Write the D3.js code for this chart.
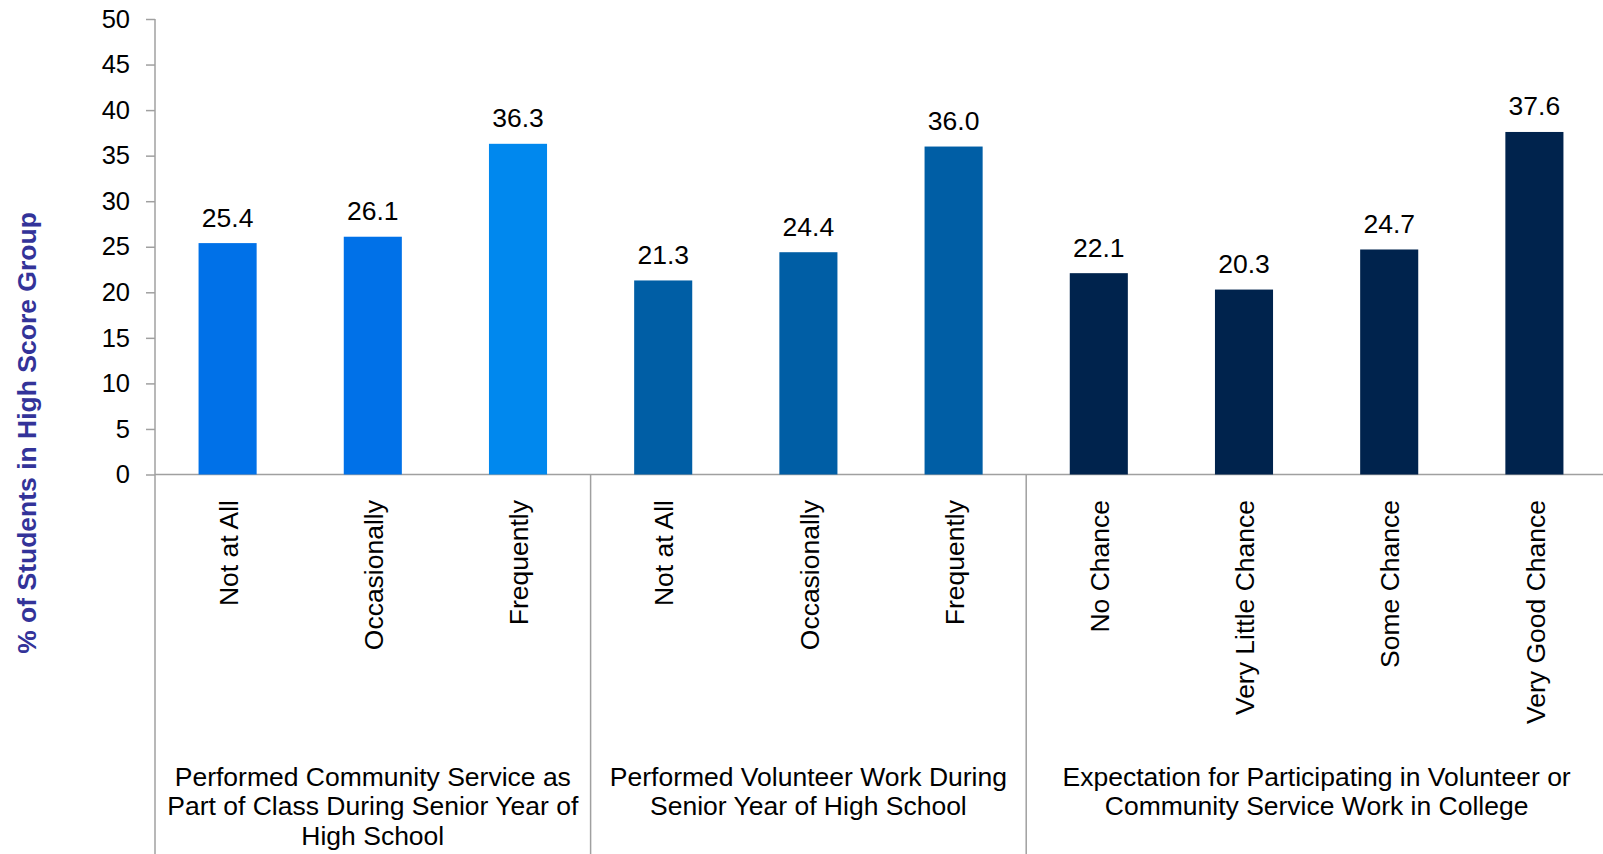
<!DOCTYPE html>
<html>
<head>
<meta charset="utf-8">
<script src="https://cdn.jsdelivr.net/npm/d3@7"></script>
<style>
  body { margin: 0; background: #fff; }
  svg { display: block; font-family: "Liberation Sans", Arial, sans-serif; }
</style>
</head>
<body>
<svg></svg>
<script>
const width = 1603;
const height = 854;

// data
const categories = ['Not at All', 'Occasionally', 'Frequently',
  'Not at All', 'Occasionally', 'Frequently',
  'No Chance', 'Very Little Chance', 'Some Chance', 'Very Good Chance'];
const values = [25.4, 26.1, 36.3, 21.3, 24.4, 36.0, 22.1, 20.3, 24.7, 37.6];
const groupOf = [0, 0, 0, 1, 1, 1, 2, 2, 2, 2];
const groupLabels = [
  ['Performed Community Service as', 'Part of Class During Senior Year of', 'High School'],
  ['Performed Volunteer Work During', 'Senior Year of High School'],
  ['Expectation for Participating in Volunteer or', 'Community Service Work in College']
];
const barColors = ['#0071E8', '#0071E8', '#0088EE',
  '#005EA5', '#005EA5', '#005EA5',
  '#00234D', '#00234D', '#00234D', '#00234D'];
const yTicks = [0, 5, 10, 15, 20, 25, 30, 35, 40, 45, 50];
const yTitle = '% of Students in High Score Group';

const left = 155;
const step = 145.2;
const y0 = 474.5;
const yTop = 19;
const fontSize = 26.5;

const svg = d3.select('svg')
  .attr('width', width)
  .attr('height', height);

const xScale = d3.scaleBand()
  .domain(d3.range(categories.length))
  .range([left, left + step * categories.length])
  .paddingInner(0.6)
  .paddingOuter(0.3);

const yScale = d3.scaleLinear()
  .domain([0, 50])
  .range([y0, yTop]);

// ====================================
// Y Axis
// ====================================
const yAxis = d3.axisLeft(yScale)
  .tickValues(yTicks)
  .tickSize(9)
  .tickPadding(16);

const yg = svg.append('g')
  .attr('transform', `translate(${left}, 0)`)
  .call(yAxis);
yg.select('.domain').remove();
yg.selectAll('line').attr('stroke', '#A0A0A0').attr('stroke-width', 1.5);
yg.selectAll('text')
  .attr('font-size', 25.5)
  .attr('fill', '#000')
  .attr('font-family', '"Liberation Sans", Arial, sans-serif');

// axis lines
svg.append('line')
  .attr('x1', left).attr('x2', left)
  .attr('y1', yTop).attr('y2', height)
  .attr('stroke', '#A0A0A0').attr('stroke-width', 1.5);

svg.append('line')
  .attr('x1', left).attr('x2', width)
  .attr('y1', y0).attr('y2', y0)
  .attr('stroke', '#A0A0A0').attr('stroke-width', 1.5);

// group separators
const groupStarts = groupLabels.map((g, i) => groupOf.indexOf(i));
const groupEnds = groupLabels.map((g, i) => groupOf.lastIndexOf(i) + 1);

svg.selectAll('.sep')
  .data(groupStarts.slice(1))
  .enter()
  .append('line')
  .attr('x1', d => left + step * d)
  .attr('x2', d => left + step * d)
  .attr('y1', y0)
  .attr('y2', height)
  .attr('stroke', '#A0A0A0').attr('stroke-width', 1.5);

// ====================================
// Bars
// ====================================
svg.selectAll('rect.bar')
  .data(values)
  .enter()
  .append('rect')
  .attr('class', 'bar')
  .attr('x', (d, i) => xScale(i))
  .attr('y', d => yScale(d))
  .attr('width', xScale.bandwidth())
  .attr('height', d => y0 - yScale(d))
  .attr('fill', (d, i) => barColors[i]);

svg.selectAll('text.val')
  .data(values)
  .enter()
  .append('text')
  .attr('class', 'val')
  .attr('x', (d, i) => xScale(i) + xScale.bandwidth() / 2)
  .attr('y', d => yScale(d) - 16.5)
  .attr('text-anchor', 'middle')
  .attr('font-size', fontSize)
  .text(d => d3.format('.1f')(d));

// category labels
svg.selectAll('text.cat')
  .data(categories)
  .enter()
  .append('text')
  .attr('class', 'cat')
  .attr('transform', (d, i) => `translate(${xScale(i) + xScale.bandwidth() / 2 + 1}, 500) rotate(-90)`)
  .attr('text-anchor', 'end')
  .attr('dy', '0.35em')
  .attr('font-size', fontSize)
  .text(d => d);

// group labels
groupLabels.forEach((lines, g) => {
  const x0 = left + step * groupStarts[g];
  const x1 = left + step * groupEnds[g];
  const t = svg.append('text')
    .attr('text-anchor', 'middle')
    .attr('font-size', fontSize);
  lines.forEach((line, k) => {
    t.append('tspan')
      .attr('x', (x0 + x1) / 2)
      .attr('y', 786 + k * 29.3)
      .text(line);
  });
});

// =================================
// Y title
// =================================
svg.append('text')
  .attr('transform', 'translate(36, 433) rotate(-90)')
  .attr('text-anchor', 'middle')
  .attr('font-size', 26.5)
  .attr('font-weight', 'bold')
  .attr('fill', '#333399')
  .text(yTitle);
</script>
</body>
</html>
